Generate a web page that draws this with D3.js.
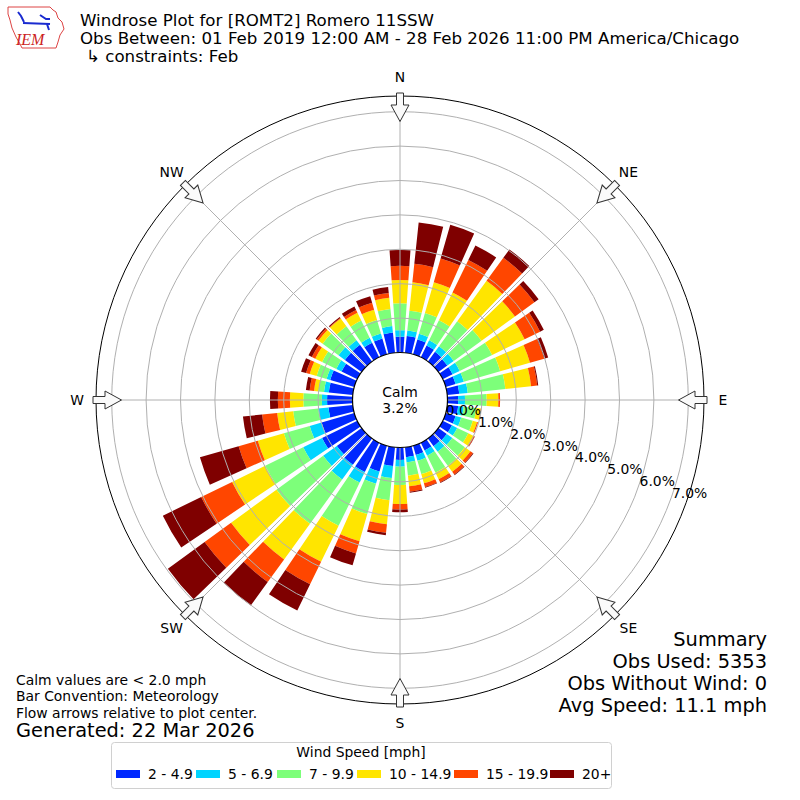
<!DOCTYPE html>
<html><head><meta charset="utf-8">
<script src="https://cdn.jsdelivr.net/npm/d3@7/dist/d3.min.js"></script>
<style>body{margin:0;background:#fff}svg{display:block;font-family:"DejaVu Sans",sans-serif}</style>
</head><body><svg id="c" width="800" height="800"></svg>
<script>
// ---- data ----
const directions = d3.range(0, 360, 10);
const speedBins = ["2 - 4.9", "5 - 6.9", "7 - 9.9", "10 - 14.9", "15 - 19.9", "20+"];
const binColors = ["#0028ff", "#00d4ff", "#7dff7a", "#ffe500", "#ff4600", "#7f0000"];
// percent of observations per direction (0..350 by 10) for each speed bin
const s2to5   = [.46,.49,.45,.38,.35,.32,.32,.30,.35,.31,.32,.30,.30,.30,.28,.25,.28,.29,.36,.55,.78,.95,.95,.89,1.14,.99,.71,.74,.70,.73,.51,.60,.60,.47,.48,.59];
const s5to7   = [.19,.16,.17,.17,.20,.23,.23,.25,.25,.20,.16,.17,.17,.20,.20,.17,.18,.15,.20,.35,.37,.34,.53,.49,.61,.36,.30,.15,.14,.11,.17,.23,.17,.16,.15,.19];
const s7to10  = [.78,.58,.63,.65,.90,1.00,1.05,1.10,1.10,.63,.37,.35,.36,.45,.50,.55,.40,.39,.53,.65,.92,1.40,1.59,1.68,1.23,.78,.73,.54,.16,.30,.46,.57,.50,.56,.41,.50];
const s10to15 = [.68,.83,.93,.90,1.45,1.20,1.05,.90,.75,.34,.13,.13,.17,.20,.22,.21,.28,.31,.55,.70,.82,1.16,1.28,1.63,1.07,.79,.47,.39,.13,.21,.22,.15,.28,.25,.31,.33];
const s15to20 = [.41,.54,.72,1.05,.83,.70,.50,.43,.18,.05,.02,.03,.03,.09,.10,.10,.11,.16,.16,.25,.37,.73,.81,.95,1.00,.58,.44,.35,.13,.11,.11,.06,.02,.09,.21,.14];
const s20plus = [.46,1.21,1.02,.47,.30,.15,.12,.12,.03,0,0,0,.01,.02,.02,.02,.02,.03,.08,.07,.36,.85,.84,1.32,1.24,1.17,.56,.23,.11,.15,.11,.04,.03,.11,.20,.17];
const seriesValues = [s2to5, s5to7, s7to10, s10to15, s15to20, s20plus];
const ringTicks = [0, 1, 2, 3, 4, 5, 6, 7];
const compassLabels = ["N","NE","E","SE","S","SW","W","NW"];
const calmPct = 3.2;
const titleLines = ["Windrose Plot for [ROMT2] Romero 11SSW",
  "Obs Between: 01 Feb 2019 12:00 AM - 28 Feb 2026 11:00 PM America/Chicago",
  "\u21b3 constraints: Feb"];
const noteLines = ["Calm values are < 2.0 mph", "Bar Convention: Meteorology", "Flow arrows relative to plot center."];
const generatedText = "Generated: 22 Mar 2026";
const summaryLines = ["Summary", "Obs Used: 5353", "Obs Without Wind: 0", "Avg Speed: 11.1 mph"];

// ---- drawing ----
const svg = d3.select("#c");
const cx = 400, cy = 400;
const r = d3.scaleLinear().domain([0, 7]).range([47.5, 288.3]);
const outerR = 304;
const F10 = 13.9, F12 = 16.67, F14 = 19.4;
const rad = d => d * Math.PI / 180;
const g = svg.append("g").attr("transform", `translate(${cx},${cy})`);

// table for stacking
const table = directions.map((d, i) => {
  const o = { dir: d };
  speedBins.forEach((b, j) => o[b] = seriesValues[j][i]);
  return o;
});
const stacked = d3.stack().keys(speedBins)(table);
const halfW = rad(4);
const arc = d3.arc();
stacked.forEach((layer, j) => {
  g.append("g").selectAll("path").data(layer).join("path")
    .attr("d", s => arc({ innerRadius: r(s[0]), outerRadius: r(s[1]),
      startAngle: rad(s.data.dir) - halfW, endAngle: rad(s.data.dir) + halfW }))
    .attr("fill", binColors[j]);
});

// grid on top
const grid = g.append("g").attr("stroke", "#b0b0b0").attr("fill", "none").attr("stroke-width", 1);
grid.selectAll("circle").data(ringTicks.slice(1)).join("circle").attr("r", d => r(d));
grid.selectAll("line").data(d3.range(0, 360, 45)).join("line")
  .attr("x1", 0).attr("y1", 0)
  .attr("x2", d => outerR * Math.sin(rad(d))).attr("y2", d => -outerR * Math.cos(rad(d)));
g.append("circle").attr("r", outerR).attr("fill", "none").attr("stroke", "#000").attr("stroke-width", 1);

// calm circle
g.append("circle").attr("r", r(0)).attr("fill", "#fff").attr("stroke", "#000").attr("stroke-width", 1.2);
g.append("text").attr("x", 0).attr("y", -3).attr("text-anchor", "middle").attr("font-size", F10).text("Calm");
g.append("text").attr("x", 0).attr("y", 13).attr("text-anchor", "middle").attr("font-size", F10).text(calmPct.toFixed(1) + "%");

// radial labels
g.selectAll("text.rl").data(ringTicks).join("text").attr("class", "rl")
  .attr("x", d => r(d) * Math.cos(rad(20)) + 1)
  .attr("y", d => r(d) * Math.sin(rad(20)) - 1)
  .attr("font-size", F10).text(d => d.toFixed(1) + "%");

// arrows and compass labels
const arrowPts = [[-3.5,-307],[3.5,-307],[3.5,-295],[9,-295],[0,-278.5],[-9,-295],[-3.5,-295]];
d3.range(0, 360, 45).forEach((a, i) => {
  g.append("polygon").attr("points", arrowPts.map(p => p.join(",")).join(" "))
    .attr("transform", `rotate(${a})`).attr("fill", "#fafafa").attr("stroke", "#333").attr("stroke-width", 1);
  g.append("text").attr("x", 323 * Math.sin(rad(a))).attr("y", -323 * Math.cos(rad(a)))
    .attr("text-anchor", "middle").attr("dominant-baseline", "central").attr("font-size", F10)
    .text(compassLabels[i]);
});

// titles
titleLines.forEach((t, i) => svg.append("text").attr("x", i === 2 ? 86 : 80).attr("y", 26 + 18 * i)
  .attr("font-size", F12).text(t));

// logo
const logo = svg.append("g");
logo.append("path").attr("d", "M8,7 L50,7 L53,10 L56,12 L58,18 L62,22 L64,29 L60,35 L58,42 L56,48 L22,48 L20,44 L16,37 L12,28 L10,20 L8,14 Z")
  .attr("fill", "none").attr("stroke", "#d44").attr("stroke-width", 1);
logo.append("line").attr("x1", 23).attr("y1", 23).attr("x2", 50).attr("y2", 24).attr("stroke", "#1a2bd0").attr("stroke-width", 2);
logo.append("path").attr("d", "M18,12 L21,16 L24,22 M40,15 L46,19 L50,19 M47,24 L49,30").attr("stroke", "#1a2bd0").attr("stroke-width", 2).attr("fill", "none");
logo.append("text").attr("x", 16).attr("y", 45).attr("font-family", "'Liberation Serif',serif").attr("font-style", "italic")
  .attr("font-size", 16).attr("fill", "#c22").text("IEM");

// notes
noteLines.forEach((t, i) => svg.append("text").attr("x", 16).attr("y", 685 + 16.3 * i).attr("font-size", F10).text(t));
svg.append("text").attr("x", 16).attr("y", 737).attr("font-size", F14).text(generatedText);
summaryLines.forEach((t, i) => svg.append("text").attr("x", 767).attr("y", 646 + 22 * i)
  .attr("text-anchor", "end").attr("font-size", F14).text(t));

// legend
const lg = svg.append("g");
lg.append("rect").attr("x", 111.5).attr("y", 742.5).attr("width", 500).attr("height", 46).attr("rx", 3)
  .attr("fill", "#fff").attr("stroke", "#d0d0d0");
lg.append("text").attr("x", 361).attr("y", 757).attr("text-anchor", "middle").attr("font-size", F10).text("Wind Speed [mph]");
const legX = [116, 196, 277, 357, 454, 550];
speedBins.forEach((b, j) => {
  lg.append("rect").attr("x", legX[j]).attr("y", 770).attr("width", 24).attr("height", 8).attr("fill", binColors[j]);
  lg.append("text").attr("x", legX[j] + 32).attr("y", 779).attr("font-size", F10).text(b);
});
</script></body></html>
